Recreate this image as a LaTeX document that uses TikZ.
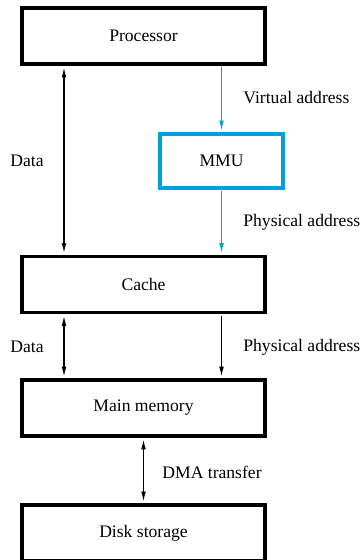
\documentclass[tikz,border=0pt]{standalone}
\usepackage{fontspec}
\setmainfont{Liberation Serif}
\newfontfamily\labelfont{Liberation Serif}
\usetikzlibrary{arrows.meta}
\definecolor{mmublue}{RGB}{0,160,222}
\begin{document}
\begin{tikzpicture}[x=0.5pt,y=-0.5pt,
  font=\labelfont\fontsize{8.8}{10}\selectfont,
  unit/.style={draw=#1,line width=1.75pt,inner sep=0pt,minimum width=121.5pt,minimum height=28pt},
  link/.style={draw=#1,line width=0.6pt,shorten >=0.85pt,shorten <=0.85pt},
  tip/.style={-{Latex[length=5pt,width=2.4pt]}},
  both/.style={{Latex[length=5pt,width=2.4pt]}-{Latex[length=5pt,width=2.4pt]}}]
\useasboundingbox (0,0) rectangle (362,560);
% boxes
\node[unit=black] (proc) at (143.5,36) {Processor};
\node[unit=mmublue,minimum width=61.5pt,minimum height=27pt] (mmu) at (221.5,161) {MMU};
\node[unit=black] (cache) at (143.5,284.5) {Cache};
\node[unit=black] (main) at (143.5,408) {Main memory};
\node[unit=black] (disk) at (143.5,533) {Disk storage};
\coordinate (lcol) at (64,0);
% connectors
\draw[link=black,both] (proc.south -| lcol) -- (cache.north -| lcol);
\draw[link=mmublue,tip] (proc.south -| mmu.north) -- (mmu.north);
\draw[link=mmublue,tip] (mmu.south) -- (cache.north -| mmu.south);
\draw[link=black,both] (cache.south -| lcol) -- (main.north -| lcol);
\draw[link=black,tip] (cache.south -| mmu.south) -- (main.north -| mmu.south);
\draw[link=black,both] (main.south) -- (disk.north);
% labels
\node[anchor=west,inner sep=0pt] (va) at (243,98) {Virtual address};
\node[anchor=west,inner sep=0pt] (pa1) at (243,222) {Physical address};
\node[anchor=west,inner sep=0pt] (pa2) at (243,347) {Physical address};
\node[anchor=west,inner sep=0pt] (d1) at (10,161) {Data};
\node[anchor=west,inner sep=0pt] (d2) at (10,347) {Data};
\node[anchor=west,inner sep=0pt] (dma) at (162,472) {DMA transfer};
\end{tikzpicture}
\end{document}
